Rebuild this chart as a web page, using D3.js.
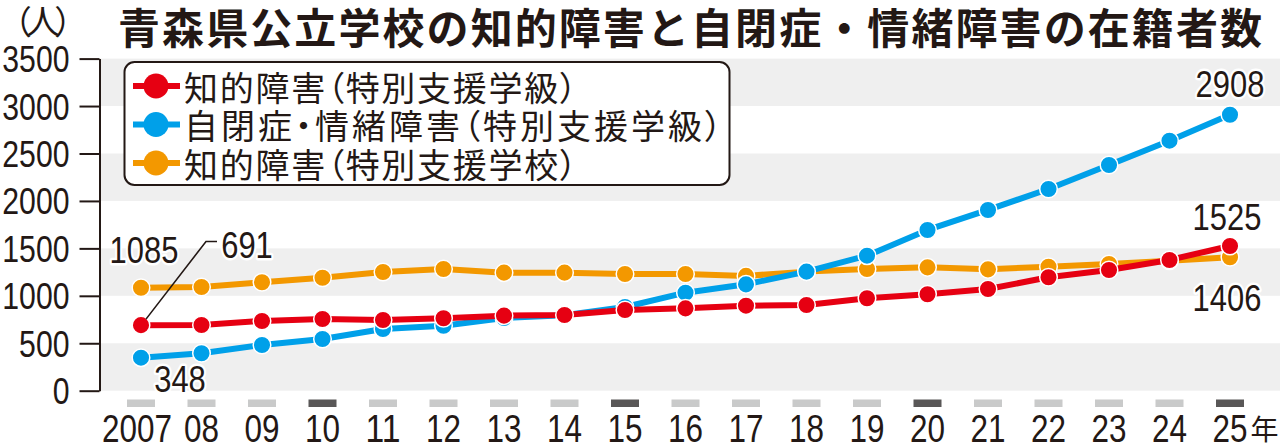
<!DOCTYPE html>
<html>
<head>
<meta charset="utf-8">
<script src="https://cdn.jsdelivr.net/npm/d3@7"></script>
<style>
  body { margin: 0; background: #fff; }
  text { fill: #231815; }
  .jp { font-family: "Noto Sans CJK JP", sans-serif; }
  .palt { font-feature-settings: "palt"; }
  .num { font-family: "Liberation Sans", Arial, sans-serif; }
</style>
</head>
<body>
<script>
// 年度ラベル
var years = ["2007","08","09","10","11","12","13","14","15","16","17","18","19","20","21","22","23","24","25"];
// 周年（濃いマーカー）
var darkYears = ["10","15","20","25"];
// 知的障害（特別支援学級）
var chitekiKyu = [691,693,735,756,745,763,791,798,851,868,896,903,974,1016,1072,1195,1272,1378,1525];
// 自閉症・情緒障害（特別支援学級）
var jiheiKyu = [348,394,482,545,650,685,766,795,882,1033,1121,1255,1423,1694,1905,2126,2379,2635,2908];
// 知的障害（特別支援学校）
var chitekiKo = [1085,1093,1143,1191,1251,1283,1244,1244,1230,1230,1210,1255,1283,1300,1279,1307,1335,1370,1406];
var yTicks = [0,500,1000,1500,2000,2500,3000,3500];

var series = [
  {name:"知的障害（特別支援学級）", values:chitekiKyu, color:"#e60012"},
  {name:"自閉症・情緒障害（特別支援学級）", values:jiheiKyu, color:"#00a0e9"},
  {name:"知的障害（特別支援学校）", values:chitekiKo, color:"#f39800"}
];

var W = 1280, H = 445;
var svg = d3.select("body").append("svg").attr("width", W).attr("height", H);

var x = d3.scalePoint().domain(years).range([141, 1230]);
var y = d3.scaleLinear().domain([0, 3500]).range([390.7, 58.6]);
var axisX = 99.5;

// condensed digits: squeeze Liberation Sans to the narrow newspaper look
function narrow(sel, per) {
  sel.attr("textLength", function() { return this.textContent.length * per; })
     .attr("lengthAdjust", "spacingAndGlyphs");
}

// bands
svg.append("g").selectAll("rect")
  .data(yTicks.slice(0, -1).filter((d, i) => i % 2 == 0))
  .enter().append("rect")
  .attr("x", axisX).attr("width", W - axisX)
  .attr("y", d => y(d + 500)).attr("height", d => y(d) - y(d + 500))
  .attr("fill", "#efefef");

// y axis
var ya = svg.append("g").attr("transform", "translate(" + axisX + ",0)")
  .call(d3.axisLeft(y).tickValues(yTicks).tickFormat(d3.format("d"))
    .tickSize(20).tickSizeOuter(0).tickPadding(10));
ya.select(".domain").attr("stroke", "#231815").attr("stroke-width", 2);
ya.selectAll(".tick line").attr("stroke", "#231815").attr("stroke-width", 2);
ya.selectAll(".tick text").attr("class", "num").style("font-size", "36px")
  .attr("fill", "#231815").attr("dy", "0.36em").call(narrow, 16.8);

// year markers
svg.append("g").selectAll("rect")
  .data(years).enter().append("rect")
  .attr("x", d => x(d) - 14).attr("y", 399.5).attr("width", 28).attr("height", 7.5)
  .attr("fill", d => darkYears.indexOf(d) >= 0 ? "#595757" : "#c9caca");

// x labels
var xl = svg.append("g").selectAll("text")
  .data(years).enter().append("text")
  .attr("class", "num")
  .attr("x", (d, i) => i == 0 ? x(d) - 4 : x(d)).attr("y", 442)
  .attr("text-anchor", "middle")
  .style("font-size", "39px")
  .text(d => d)
  .call(narrow, 17.5);
var lastX = x(years[years.length - 1]) + years[years.length - 1].length * 17.5 / 2;
svg.append("text").attr("class", "jp")
  .attr("x", lastX + 3).attr("y", 440)
  .style("font-size", "28px").text("年");

// lines (draw order: school, autism, intellectual class)
var line = d3.line().x((d, i) => x(years[i])).y(d => y(d));
[2, 1, 0].forEach(function(k) {
  var s = series[k];
  var g = svg.append("g");
  g.append("path").datum(s.values).attr("d", line)
    .attr("fill", "none").attr("stroke", s.color).attr("stroke-width", 6).attr("stroke-linejoin", "round");
  g.selectAll("circle").data(s.values).enter().append("circle")
    .attr("cx", (d, i) => x(years[i])).attr("cy", d => y(d)).attr("r", 8.8)
    .attr("fill", s.color).attr("stroke", "#fff").attr("stroke-width", 1.5);
});

// leader for 691
svg.append("polyline")
  .attr("points", [[x(years[0]) + 5, y(chitekiKyu[0]) - 6], [206, 241.5], [217, 241.5]].join(" "))
  .attr("fill", "none").attr("stroke", "#231815").attr("stroke-width", 1.6);

// value labels
var labels = [
  {t: chitekiKo[0], x: 144, y: 263},
  {t: chitekiKyu[0], x: 247, y: 258},
  {t: jiheiKyu[0], x: 180, y: 392},
  {t: jiheiKyu[18], x: 1230, y: 97},
  {t: chitekiKyu[18], x: 1227, y: 230},
  {t: chitekiKo[18], x: 1227, y: 311}
];
svg.append("g").selectAll("text").data(labels).enter().append("text")
  .attr("class", "num").attr("x", d => d.x).attr("y", d => d.y)
  .attr("text-anchor", "middle").style("font-size", "37px")
  .attr("stroke", "#fff").attr("stroke-width", 5).attr("stroke-linejoin", "round")
  .style("paint-order", "stroke")
  .text(d => d.t)
  .call(narrow, 17.2);

// legend
var lg = svg.append("g");
lg.append("rect").attr("x", 124.5).attr("y", 62).attr("width", 605).attr("height", 123).attr("rx", 10)
  .attr("fill", "#fff").attr("stroke", "#231815").attr("stroke-width", 2);
var lens = [393, 538, 393];
series.forEach(function(s, i) {
  var cy = 86 + i * 38.5;
  lg.append("line").attr("x1", 133).attr("x2", 180).attr("y1", cy).attr("y2", cy)
    .attr("stroke", s.color).attr("stroke-width", 6);
  lg.append("circle").attr("cx", 156).attr("cy", cy).attr("r", 12.5).attr("fill", s.color);
  lg.append("text").attr("class", "jp palt").attr("x", 184).attr("y", cy)
    .attr("dominant-baseline", "central")
    .style("font-size", "34px")
    .attr("textLength", lens[i]).attr("lengthAdjust", "spacing")
    .text(s.name);
});

// title & unit
svg.append("text").attr("class", "jp").attr("x", 118).attr("y", 25)
  .attr("dominant-baseline", "central")
  .style("font-size", "42px").style("font-weight", 700)
  .attr("textLength", 1144).attr("lengthAdjust", "spacing")
  .text("青森県公立学校の知的障害と自閉症・情緒障害の在籍者数");
svg.append("text").attr("class", "jp palt").attr("x", 14).attr("y", 20)
  .attr("dominant-baseline", "central")
  .style("font-size", "33px")
  .attr("textLength", 58).attr("lengthAdjust", "spacing")
  .text("（人）");
</script>
</body>
</html>
